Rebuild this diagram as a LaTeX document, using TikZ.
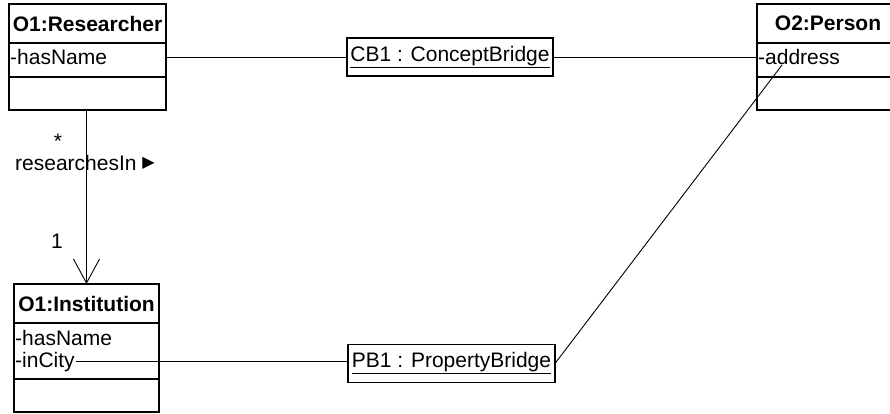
\documentclass[tikz,border=0pt]{standalone}
\usepackage{fontspec}
\setmainfont{Liberation Sans}
\newfontfamily\symfont{DejaVu Sans}
\usetikzlibrary{positioning,arrows.meta}

\newcommand{\umlfont}{\fontsize{21}{23}\selectfont}

\tikzset{
  box/.style={draw, line width=1.4pt, outer sep=0pt, inner sep=0pt},
  clsname/.style={box, minimum height=39pt, font=\umlfont\bfseries},
  compart/.style={box, anchor=north},
  attr/.style={anchor=base west, inner sep=1pt, font=\umlfont},
  bridge/.style={box, minimum height=38pt, font=\umlfont},
  lbl/.style={anchor=base, inner sep=0pt, font=\umlfont},
  link/.style={line width=0.9pt}
}

\begin{document}
\begin{tikzpicture}[x=1pt, y=-1pt]
\useasboundingbox (0,0) rectangle (890,414);

% researcher object
\node[clsname, minimum width=157pt] (rsName) at (87.5,23.5) {O1:Researcher};
\node[compart, minimum width=157pt, minimum height=34pt, below=0pt of rsName] (rsAttr) {};
\node[compart, minimum width=157pt, minimum height=33pt, below=0pt of rsAttr] (rsOps) {};
\node[attr] (rsHasName) at (9,65) {-hasName};

% person object (runs off the right edge)
\node[clsname, minimum width=142pt] (psName) at (828,23.5) {O2:Person};
\node[compart, minimum width=142pt, minimum height=34pt, below=0pt of psName] (psAttr) {};
\node[compart, minimum width=142pt, minimum height=33pt, below=0pt of psAttr] (psOps) {};
\node[attr] (address) at (757,65) {-address};
\coordinate (addrEnd) at (782,65);

% institution object
\node[clsname, minimum width=145pt] (inName) at (86.5,303.5) {O1:Institution};
\node[compart, minimum width=145pt, minimum height=56pt, below=0pt of inName] (inAttr) {};
\node[compart, minimum width=145pt, minimum height=33pt, below=0pt of inAttr] (inOps) {};
\node[attr] (inHasName) at (14,345) {-hasName};
\node[attr] (inCity) at (14,367) {-inCity};

% bridges
\node[bridge, minimum width=206pt] (CB1) at (450,57) {\underline{CB1 : ConceptBridge}};
\node[bridge, minimum width=207pt] (PB1) at (451.5,363.5) {\underline{PB1 : PropertyBridge}};

\draw[link] (CB1.west -| rsAttr.east) -- (CB1.west);
\draw[link] (CB1.east) -- (CB1.east -| psAttr.west);
\draw[link] (inCity.east) -- (inCity.east -| PB1.west);
\draw[link] (PB1.east) -- (addrEnd);

% association researchesIn
\draw[link, -{Straight Barb[length=24pt, width=26pt, line width=0.9pt]}]
  (inName.north |- rsOps.south) -- (inName.north);
\node[lbl] (multMany) at (58,149) {*};
\node[lbl, anchor=base west] (assocName) at (15,171)
  {researchesIn \raisebox{3pt}{\symfont\fontsize{16}{16}\selectfont ▶}};
\node[lbl] (multOne) at (57,248) {1};
\end{tikzpicture}
\end{document}
